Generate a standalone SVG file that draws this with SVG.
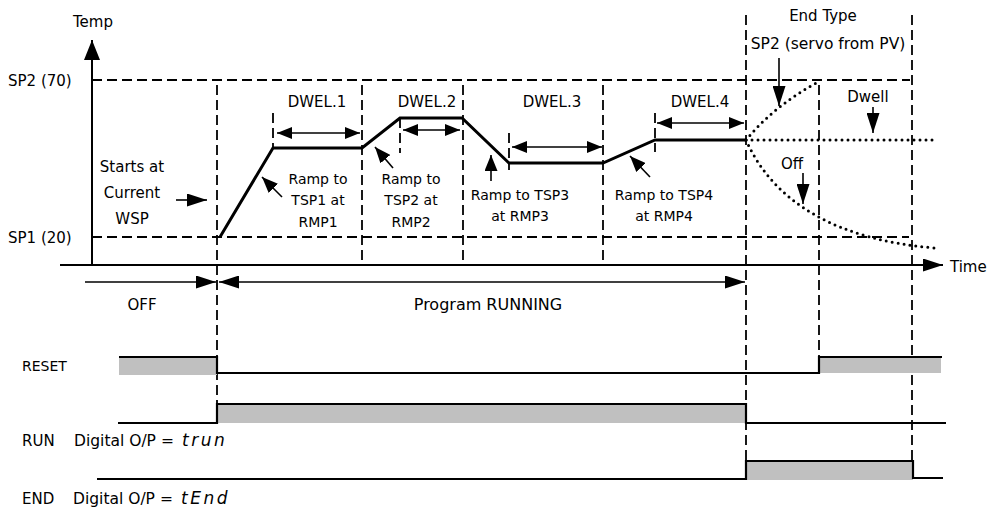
<svg xmlns="http://www.w3.org/2000/svg" width="991" height="508" viewBox="0 0 991 508">
<style>
text{font-family:"DejaVu Sans","Liberation Sans",sans-serif;font-size:15px;fill:#000}
.m{text-anchor:middle}
.r14{font-size:14px}
.dash{stroke:#000;stroke-width:1.8;stroke-dasharray:10 5;fill:none}
.ax{stroke:#000;stroke-width:2;fill:none}
.prof{stroke:#000;stroke-width:3;fill:none;stroke-linejoin:miter}
.thin{stroke:#000;stroke-width:1.6;fill:none}
.dot{stroke:#000;stroke-width:3;fill:none;stroke-dasharray:0 6;stroke-linecap:round}
.sig{stroke:#000;stroke-width:2.2;fill:none}
.gray{fill:#c0c0c0;stroke:none}
.seg{font-style:italic;font-size:17px;letter-spacing:2.5px}
</style>
<defs>
<marker id="big" markerUnits="userSpaceOnUse" markerWidth="20" markerHeight="13" refX="20" refY="6.5" orient="auto-start-reverse"><path d="M0,0 L20,6.5 L0,13 z" fill="#000"/></marker>
<marker id="mid" markerUnits="userSpaceOnUse" markerWidth="15" markerHeight="12" refX="15" refY="6" orient="auto-start-reverse"><path d="M0,0 L15,6 L0,12 z" fill="#000"/></marker>
<marker id="ptr" markerUnits="userSpaceOnUse" markerWidth="16" markerHeight="13" refX="16" refY="6.5" orient="auto"><path d="M0,0 L16,6.5 L0,13 z" fill="#000"/></marker>
<marker id="yax" markerUnits="userSpaceOnUse" markerWidth="20" markerHeight="16" refX="20" refY="8" orient="auto"><path d="M0,0 L20,8 L0,16 z" fill="#000"/></marker>
</defs>

<g id="grid">
<line class="dash" x1="92" y1="80" x2="910" y2="80"/>
<line class="dash" x1="92" y1="237" x2="909" y2="237"/>
<line class="dash" x1="217" y1="85" x2="217" y2="404"/>
<line class="dash" x1="362" y1="85" x2="362" y2="266"/>
<line class="dash" x1="463" y1="85" x2="463" y2="266"/>
<line class="dash" x1="603" y1="85" x2="603" y2="266"/>
<line class="dash" x1="746" y1="15" x2="746" y2="480"/>
<line class="dash" x1="819" y1="85" x2="819" y2="357"/>
<line class="dash" x1="912" y1="15" x2="912" y2="461"/>
<line class="dash" x1="273" y1="113" x2="273" y2="148"/>
<line class="dash" x1="400" y1="118" x2="400" y2="153"/>
<line class="dash" x1="509" y1="133" x2="509" y2="170"/>
<line class="dash" x1="655" y1="113" x2="655" y2="152"/>
</g>

<g id="axes">
<line class="ax" x1="92" y1="265" x2="92" y2="40" marker-end="url(#yax)"/>
<line class="ax" x1="60" y1="265" x2="943" y2="265" marker-end="url(#big)"/>
<text class="m" x="93" y="27">Temp</text>
<text x="8" y="86">SP2 (70)</text>
<text x="8" y="243">SP1 (20)</text>
<text x="950" y="272">Time</text>
</g>

<g id="profile">
<polyline class="prof" points="220,237 273,148 362,148 400,118 462,118 509,163 603,163 655,140 746,140"/>
</g>

<g id="end-type">
<path class="dot" d="M746,140 Q775,105 818,82"/>
<line class="dot" x1="746" y1="140" x2="934" y2="140"/>
<path class="dot" d="M746,140 C775,205 840,240 935,248"/>
<text class="m" x="823" y="21">End Type</text>
<text class="m" x="828" y="49" style="font-size:15.5px">SP2 (servo from PV)</text>
<text class="m" x="868" y="102">Dwell</text>
<text class="m" x="792" y="169">Off</text>
</g>

<g id="connectors">
<line class="thin" x1="277" y1="133" x2="360" y2="133" marker-start="url(#mid)" marker-end="url(#mid)"/>
<line class="thin" x1="403" y1="130" x2="460" y2="130" marker-start="url(#mid)" marker-end="url(#mid)"/>
<line class="thin" x1="512" y1="147" x2="602" y2="147" marker-start="url(#mid)" marker-end="url(#mid)"/>
<line class="thin" x1="657" y1="123" x2="744" y2="123" marker-start="url(#mid)" marker-end="url(#mid)"/>
<line class="thin" x1="282" y1="197" x2="262" y2="177" marker-end="url(#ptr)"/>
<line class="thin" x1="393" y1="168" x2="375" y2="147" marker-end="url(#ptr)"/>
<line class="thin" x1="491" y1="181" x2="491" y2="155" marker-end="url(#ptr)"/>
<line class="thin" x1="650" y1="177" x2="630" y2="156" marker-end="url(#ptr)"/>
<line class="thin" x1="176" y1="200" x2="207" y2="200" marker-end="url(#big)"/>
<line class="thin" x1="779" y1="58" x2="779" y2="106" marker-end="url(#big)"/>
<line class="thin" x1="873" y1="107" x2="873" y2="133" marker-end="url(#big)"/>
<line class="thin" x1="803" y1="173" x2="803" y2="204" marker-end="url(#big)"/>
<line class="thin" x1="85" y1="282" x2="216" y2="282" marker-end="url(#big)"/>
<line class="thin" x1="219" y1="282" x2="745" y2="282" marker-start="url(#big)" marker-end="url(#big)"/>
</g>

<g id="labels">
<text class="m" x="317" y="107">DWEL.1</text>
<text class="m" x="427" y="107">DWEL.2</text>
<text class="m" x="552" y="107">DWEL.3</text>
<text class="m" x="700" y="107">DWEL.4</text>
<text class="m r14" x="318" y="184">Ramp to</text>
<text class="m r14" x="318" y="205">TSP1 at</text>
<text class="m r14" x="318" y="227">RMP1</text>
<text class="m r14" x="411" y="184">Ramp to</text>
<text class="m r14" x="411" y="205">TSP2 at</text>
<text class="m r14" x="411" y="227">RMP2</text>
<text class="m r14" x="520" y="200">Ramp to TSP3</text>
<text class="m r14" x="520" y="221">at RMP3</text>
<text class="m r14" x="664" y="200">Ramp to TSP4</text>
<text class="m r14" x="664" y="221">at RMP4</text>
<text class="m" x="132" y="172">Starts at</text>
<text class="m" x="132" y="198">Current</text>
<text class="m" x="132" y="224">WSP</text>
<text class="m" x="142" y="310">OFF</text>
<text class="m" x="488" y="310" style="font-size:16px">Program RUNNING</text>
</g>

<g id="signals">
<rect class="gray" x="119" y="357" width="98" height="18"/>
<rect class="gray" x="819" y="357" width="122" height="16"/>
<rect class="gray" x="217" y="404" width="529" height="19"/>
<rect class="gray" x="746" y="461" width="167" height="19"/>
<polyline class="sig" points="119,357 217,357 217,373 819,373 819,357 942,357"/>
<polyline class="sig" points="118,423 217,423 217,404 746,404 746,423 946,423"/>
<polyline class="sig" points="97,479 746,479 746,461 913,461 913,478 943,478"/>
<text class="r14" x="22" y="371">RESET</text>
<text x="22" y="446">RUN</text>
<text x="74" y="446" style="font-size:15.5px">Digital O/P =</text>
<text class="seg" x="182" y="446">trun</text>
<text x="22" y="504">END</text>
<text x="73" y="504" style="font-size:15.5px">Digital O/P =</text>
<text class="seg" x="181" y="504">tEnd</text>
</g>
</svg>
